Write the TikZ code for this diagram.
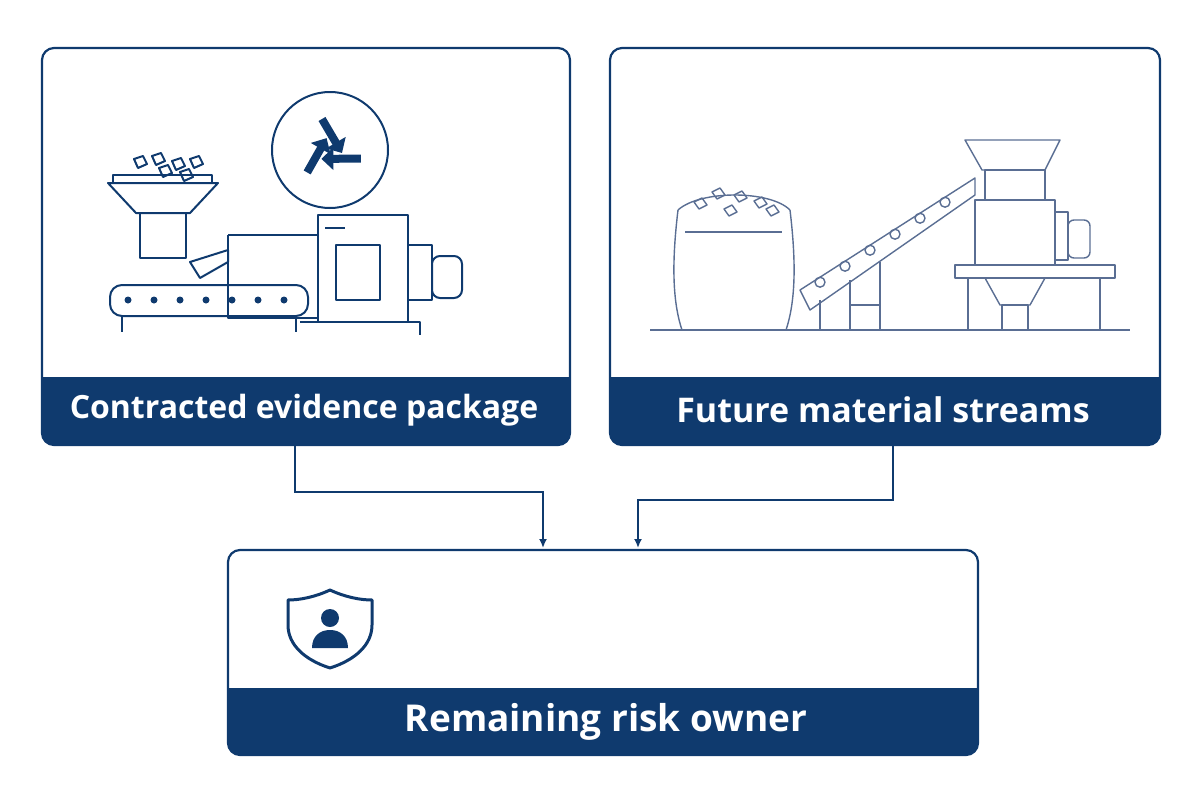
\documentclass[tikz,border=0pt]{standalone}
\usepackage{fontspec}
\setmainfont{Open Sans}
\usetikzlibrary{arrows.meta}
\definecolor{navy}{HTML}{0F3A6E}
\definecolor{lineblue}{HTML}{5A6E93}
\begin{document}
\begin{tikzpicture}[x=1pt,y=-1pt,
  box/.style={draw=navy,line width=2.2pt,rounded corners=12pt},
  lbl/.style={text=white,font=\bfseries},
  ico/.style={draw=navy,line width=2pt,line join=round},
  thin/.style={draw=lineblue,line width=1.4pt,line join=round},
  conn/.style={draw=navy,line width=1.8pt,-{Latex[length=9pt,width=8pt]}}]
\useasboundingbox (0,0) rectangle (1200,800);
% boxes
\fill[navy,rounded corners=12pt] (42,377) rectangle (570,445);
\fill[navy] (42,377) rectangle (570,400);
\draw[box] (42,48) rectangle (570,445);
\node[lbl,font=\fontsize{32}{38}\selectfont\bfseries] (t1) at (304,410) {Contracted evidence package};
\fill[navy,rounded corners=12pt] (610,377) rectangle (1160,445);
\fill[navy] (610,377) rectangle (1160,400);
\draw[box] (610,48) rectangle (1160,445);
\node[lbl,font=\fontsize{34}{40}\selectfont\bfseries] (t2) at (883,410) {Future material streams};
\fill[navy,rounded corners=12pt] (228,688) rectangle (978,755);
\fill[navy] (228,688) rectangle (978,710);
\draw[box] (228,550) rectangle (978,755);
\node[lbl,font=\fontsize{37}{44}\selectfont\bfseries] (t3) at (606,722) {Remaining risk owner};
% connectors
\coordinate (a1) at (295,445); \coordinate (b1) at (543,548);
\coordinate (a2) at (893,445); \coordinate (b2) at (638,548);
\draw[conn] (a1) -- (295,492) -- (543,492) -- (b1);
\draw[conn] (a2) -- (893,500) -- (638,500) -- (b2);
% shield icon
\draw[ico,line width=3pt] (330,590) .. controls (345,597) and (360,600) .. (372,600) -- (372,625) .. controls (372,645) and (355,660) .. (330,668) .. controls (305,660) and (288,645) .. (288,625) -- (288,600) .. controls (300,600) and (315,597) .. (330,590) -- cycle;
\fill[navy] (330,618) circle (9);
\fill[navy] (312,648) .. controls (312,636) and (320,630) .. (330,630) .. controls (340,630) and (348,636) .. (348,648) -- cycle;
% left illustration: recycle symbol
\draw[ico] (330,150) circle (58);
\foreach \a in {0,120,240}{
  \begin{scope}[shift={(330,150)},rotate=\a]
   \draw[navy,line width=8pt,-{Triangle[length=12pt,width=22pt]}]
     (-8,-31) -- (12,3);
  \end{scope}}
\draw[ico] (108,183) -- (218,183) -- (190,213) -- (136,213) -- cycle;
\draw[ico] (113,183) -- (113,175) -- (212,175) -- (212,183);
\draw[ico] (140,213) rectangle (186,258);
\foreach \p in {(140,163),(158,160),(178,165),(196,163),(165,172),(186,176)}
  \draw[ico] \p ++(-6,-4) -- ++(9,-3) -- ++(4,8) -- ++(-9,4) -- cycle;
\draw[ico,rounded corners=12pt] (110,285) rectangle (308,316);
\foreach \x in {128,154,180,206,232,258,284} \fill[navy] (\x,300) circle (3.5);
\draw[ico] (122,316) -- (122,332); \draw[ico] (296,316) -- (296,332);
\draw[ico] (228,235) -- (228,318) -- (318,318);
\draw[ico] (228,235) -- (318,235);
\draw[ico] (190,262) -- (228,250) -- (228,262) -- (200,278) -- cycle;
\draw[ico] (318,215) rectangle (408,322);
\draw[ico] (325,228) -- (345,228);
\draw[ico] (336,245) rectangle (380,300);
\draw[ico] (408,245) rectangle (432,300);
\draw[ico,rounded corners=8pt] (432,256) rectangle (462,298);
\draw[ico] (300,322) -- (420,322) -- (420,335);
% right illustration
\draw[thin] (650,330) -- (1130,330);
\draw[thin] (678,210) .. controls (672,260) and (672,300) .. (682,330);
\draw[thin] (790,210) .. controls (796,260) and (796,300) .. (786,330);
\draw[thin] (678,210) .. controls (700,190) and (770,190) .. (790,210);
\foreach \p in {(700,205),(718,195),(740,198),(760,204),(730,212),(772,212)}
  \draw[thin] \p ++(-6,-3) -- ++(8,-4) -- ++(5,7) -- ++(-8,4) -- cycle;
\draw[thin] (685,232) -- (782,232);
\draw[thin] (800,290) -- (975,178) -- (975,195) -- (810,310) -- cycle;
\foreach \x in {820,845,870,895,920,945} \draw[thin] (\x,{290-(\x-800)*0.64+5}) circle (5);
\draw[thin] (820,300) -- (820,330); \draw[thin] (850,280) -- (850,330);
\draw[thin] (880,262) -- (880,330); \draw[thin] (850,305) -- (880,305);
\draw[thin] (965,140) -- (1060,140) -- (1045,170) -- (982,170) -- cycle;
\draw[thin] (985,170) rectangle (1045,200);
\draw[thin] (975,200) rectangle (1055,265);
\draw[thin] (1055,212) rectangle (1068,260);
\draw[thin,rounded corners=6pt] (1068,220) rectangle (1090,258);
\draw[thin] (955,265) rectangle (1115,278);
\draw[thin] (968,278) -- (968,330); \draw[thin] (1100,278) -- (1100,330);
\draw[thin] (985,278) -- (1045,278) -- (1030,305) -- (1000,305) -- cycle;
\draw[thin] (1002,305) rectangle (1028,330);
\end{tikzpicture}
\end{document}
